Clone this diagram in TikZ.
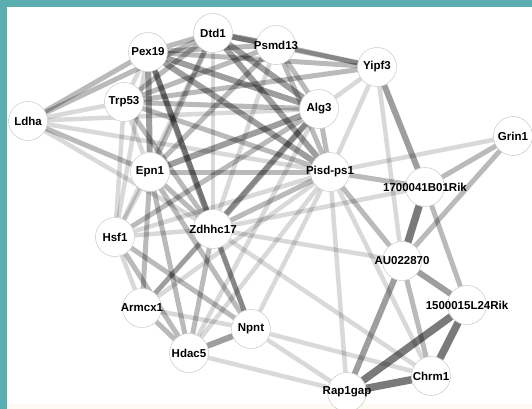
\documentclass[tikz,border=0pt]{standalone}
\usepackage{fontspec}
\setsansfont{Liberation Sans}
\usetikzlibrary{backgrounds}
\definecolor{frame}{HTML}{5AAEAF}
\definecolor{foot}{HTML}{FCFAF3}

\begin{document}
\begin{tikzpicture}[x=1pt,y=-1pt,font=\sffamily\bfseries\fontsize{11.5}{13}\selectfont]
    \tikzstyle{gene}=[circle, draw=gray!50, fill=white, minimum size=39pt, inner sep=0pt,
        execute at begin node={\hbox to 0pt\bgroup\hss}, execute at end node={\hss\egroup}]
    \tikzstyle{weak}=[draw=black, draw opacity=0.15, line width=4.5pt]
    \tikzstyle{fair}=[draw=black, draw opacity=0.27, line width=5pt]
    \tikzstyle{strong}=[draw=black, draw opacity=0.38, line width=6pt]
    \tikzstyle{top}=[draw=black, draw opacity=0.52, line width=7.5pt]
    \useasboundingbox (0,0) rectangle (532,409);

    % Genes
    \node[gene] (ldha) at (28,121) {Ldha};
    \node[gene] (pex19) at (148,52) {Pex19};
    \node[gene] (dtd1) at (213,33) {Dtd1};
    \node[gene] (psmd13) at (276,45) {Psmd13};
    \node[gene] (yipf3) at (377,67) {Yipf3};
    \node[gene] (trp53) at (124,102) {Trp53};
    \node[gene] (alg3) at (319,109) {Alg3};
    \node[gene] (grin1) at (513,136) {Grin1};
    \node[gene] (epn1) at (150,172) {Epn1};
    \node[gene] (pisd) at (330,172) {Pisd-ps1};
    \node[gene] (rik17) at (425,187) {1700041B01Rik};
    \node[gene] (hsf1) at (115,237) {Hsf1};
    \node[gene] (zdhhc17) at (213,229) {Zdhhc17};
    \node[gene] (au) at (402,261) {AU022870};
    \node[gene] (rik15) at (467,305) {1500015L24Rik};
    \node[gene] (armcx1) at (142,308) {Armcx1};
    \node[gene] (npnt) at (251,329) {Npnt};
    \node[gene] (hdac5) at (189,353) {Hdac5};
    \node[gene] (rap1gap) at (347,392) {Rap1gap};
    \node[gene] (chrm1) at (431,376) {Chrm1};

    \begin{scope}[on background layer]
    % Frame
    \fill[white] (0,0) rectangle (532,409);
    \fill[foot] (7,404) rectangle (532,409);
    \fill[frame] (0,0) rectangle (532,7);
    \fill[frame] (0,0) rectangle (7,409);

    % Ldha
    \draw[fair] (ldha) -- (pex19);
    \draw[fair] (ldha) -- (dtd1);
    \draw[weak] (ldha) -- (trp53);
    \draw[fair] (ldha) -- (epn1);
    \draw[weak] (ldha) -- (alg3);
    \draw[weak] (ldha) -- (pisd);
    \draw[weak] (ldha) -- (zdhhc17);

    % Pex19
    \draw[fair] (pex19) -- (dtd1);
    \draw[fair] (pex19) -- (psmd13);
    \draw[fair] (pex19) -- (yipf3);
    \draw[strong] (pex19) -- (alg3);
    \draw[strong] (pex19) -- (pisd);
    \draw[weak] (pex19) -- (trp53);
    \draw[strong] (pex19) -- (epn1);
    \draw[strong] (pex19) -- (zdhhc17);
    \draw[weak] (pex19) -- (hsf1);
    \draw[fair] (pex19) -- (npnt);

    % Dtd1
    \draw[strong] (dtd1) -- (psmd13);
    \draw[fair] (dtd1) -- (yipf3);
    \draw[strong] (dtd1) -- (alg3);
    \draw[strong] (dtd1) -- (pisd);
    \draw[fair] (dtd1) -- (epn1);
    \draw[weak] (dtd1) -- (zdhhc17);
    \draw[fair] (dtd1) -- (trp53);
    \draw[weak] (dtd1) -- (hsf1);

    % Psmd13
    \draw[fair] (psmd13) -- (yipf3);
    \draw[fair] (psmd13) -- (alg3);
    \draw[fair] (psmd13) -- (pisd);
    \draw[fair] (psmd13) -- (epn1);
    \draw[fair] (psmd13) -- (trp53);
    \draw[weak] (psmd13) -- (zdhhc17);

    % Yipf3
    \draw[fair] (yipf3) -- (trp53);
    \draw[weak] (yipf3) -- (alg3);
    \draw[weak] (yipf3) -- (pisd);
    \draw[strong] (yipf3) -- (rik17);
    \draw[weak] (yipf3) -- (au);

    % Trp53
    \draw[fair] (trp53) -- (alg3);
    \draw[fair] (trp53) -- (pisd);
    \draw[weak] (trp53) -- (epn1);
    \draw[fair] (trp53) -- (zdhhc17);
    \draw[weak] (trp53) -- (hsf1);

    % Alg3
    \draw[strong] (alg3) -- (epn1);
    \draw[strong] (alg3) -- (zdhhc17);
    \draw[fair] (alg3) -- (pisd);
    \draw[fair] (alg3) -- (hsf1);
    \draw[weak] (alg3) -- (armcx1);
    \draw[weak] (alg3) -- (hdac5);

    % Epn1
    \draw[fair] (epn1) -- (pisd);
    \draw[fair] (epn1) -- (zdhhc17);
    \draw[weak] (epn1) -- (hsf1);
    \draw[fair] (epn1) -- (armcx1);
    \draw[fair] (epn1) -- (hdac5);
    \draw[fair] (epn1) -- (npnt);

    % Pisd-ps1
    \draw[fair] (pisd) -- (zdhhc17);
    \draw[weak] (pisd) -- (hsf1);
    \draw[weak] (pisd) -- (armcx1);
    \draw[weak] (pisd) -- (hdac5);
    \draw[weak] (pisd) -- (npnt);
    \draw[fair] (pisd) -- (rik17);
    \draw[fair] (pisd) -- (au);
    \draw[weak] (pisd) -- (rap1gap);
    \draw[weak] (pisd) -- (chrm1);
    \draw[weak] (pisd) -- (grin1);

    % Zdhhc17
    \draw[weak] (zdhhc17) -- (hsf1);
    \draw[fair] (zdhhc17) -- (armcx1);
    \draw[fair] (zdhhc17) -- (hdac5);
    \draw[fair] (zdhhc17) -- (npnt);
    \draw[weak] (zdhhc17) -- (au);
    \draw[weak] (zdhhc17) -- (rik17);
    \draw[weak] (zdhhc17) -- (chrm1);

    % Lower left
    \draw[weak] (hsf1) -- (armcx1);
    \draw[fair] (hsf1) -- (hdac5);
    \draw[fair] (hsf1) -- (npnt);
    \draw[fair] (armcx1) -- (hdac5);
    \draw[weak] (armcx1) -- (npnt);
    \draw[strong] (hdac5) -- (npnt);
    \draw[weak] (hdac5) -- (rap1gap);
    \draw[weak] (npnt) -- (rap1gap);
    \draw[weak] (npnt) -- (chrm1);

    % Right cluster
    \draw[fair] (rik17) -- (grin1);
    \draw[top] (rik17) -- (au);
    \draw[fair] (rik17) -- (rik15);
    \draw[fair] (grin1) -- (au);
    \draw[strong] (au) -- (rik15);
    \draw[strong] (au) -- (rap1gap);
    \draw[fair] (au) -- (chrm1);
    \draw[top] (rik15) -- (rap1gap);
    \draw[top] (rik15) -- (chrm1);
    \draw[top] (rap1gap) -- (chrm1);
    \end{scope}
\end{tikzpicture}
\end{document}
